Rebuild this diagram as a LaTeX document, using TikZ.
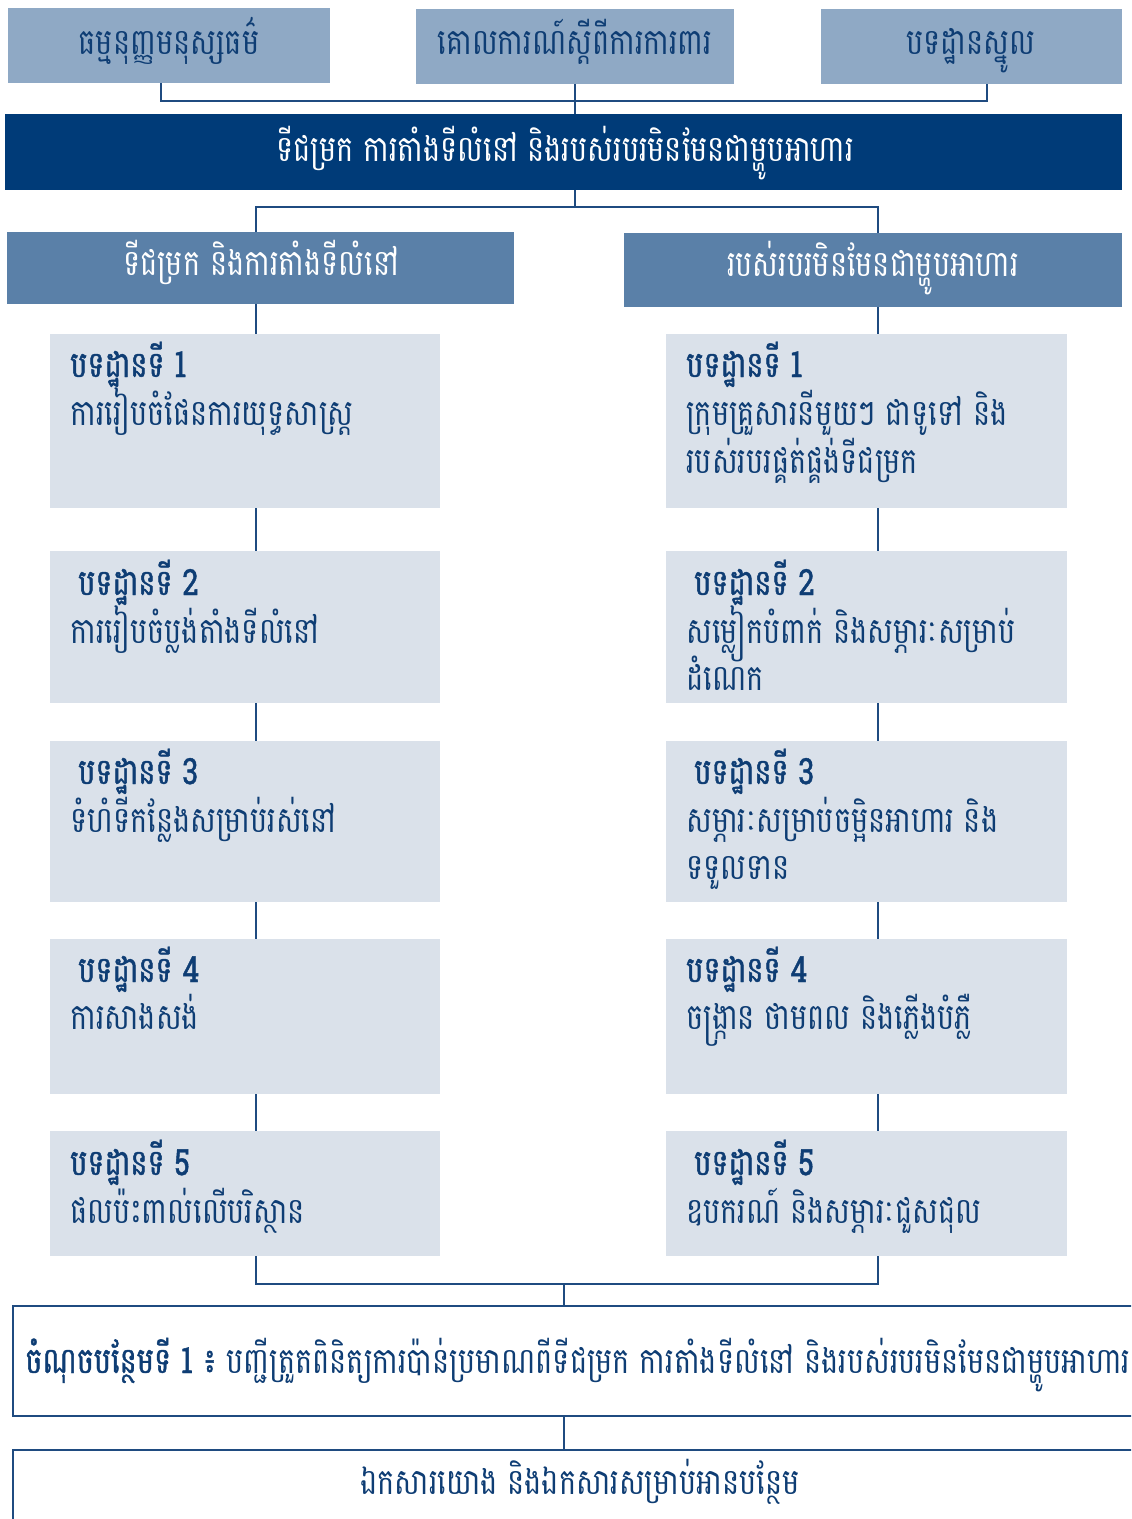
\documentclass[tikz,border=0pt]{standalone}
\usepackage{fontspec}
\newfontfamily\kh[Script=Khmer,FakeStretch=0.8]{Battambang}
\newfontfamily\khsemi[Script=Khmer,FakeStretch=0.8,FakeBold=1.2]{Battambang}
\usetikzlibrary{fit}
\definecolor{topfill}{HTML}{8FA9C5}
\definecolor{navy}{HTML}{003B78}
\definecolor{midfill}{HTML}{5A80A8}
\definecolor{lightfill}{HTML}{DAE1EA}
\definecolor{ink}{HTML}{0E3D74}
\definecolor{wire}{HTML}{1F4B80}
\tikzset{
  box/.style={inner sep=0pt, outer sep=0pt, draw=none},
  topbox/.style={box, fill=topfill},
  mainbox/.style={box, fill=navy},
  headbox/.style={box, fill=midfill},
  stdbox/.style={box, fill=lightfill},
  framebox/.style={box, draw=wire, line width=1.5pt, fill=white},
  wire/.style={draw=wire, line width=1.4pt},
  txt/.style={inner sep=0pt, text=ink, font=\kh\fontsize{27}{30}\selectfont},
  wtxt/.style={txt, text=white},
  hd/.style={txt, anchor=base west, font=\khsemi\fontsize{27}{30}\selectfont},
  ln/.style={txt, anchor=base west},
}
\begin{document}
\begin{tikzpicture}[x=0.75pt,y=-0.75pt]
\useasboundingbox (0,0) rectangle (1131,1519);
\clip (0,0) rectangle (1131,1519);

% top row of reference documents
\node[topbox, fit={(8,8) (330,83)}] (t1) {};
\node[topbox, fit={(416,9) (734,84)}] (t2) {};
\node[topbox, fit={(821,9) (1122,84)}] (t3) {};
\node[txt, anchor=base] (t1t) at (169,55) {ធម្មនុញ្ញមនុស្សធម៌};
\node[txt, anchor=base] (t2t) at (575,55) {គោលការណ៍ស្តីពីការការពារ};
\node[txt, anchor=base] (t3t) at (971,55) {បទដ្ឋានស្នូល};

% chapter title
\node[mainbox, fit={(5,114) (1122,190)}] (main) {};
\node[wtxt, anchor=base] (maint) at (565,162) {ទីជម្រក ការតាំងទីលំនៅ និងរបស់របរមិនមែនជាម្ហូបអាហារ};

% two section headers
\node[headbox, fit={(7,232) (514,304)}] (hl) {};
\node[headbox, fit={(624,233) (1122,307)}] (hr) {};
\node[wtxt, anchor=base] (hlt) at (261,276) {ទីជម្រក និងការតាំងទីលំនៅ};
\node[wtxt, anchor=base] (hrt) at (873,277) {របស់របរមិនមែនជាម្ហូបអាហារ};

% standards, left column
\node[stdbox, fit={(50,334) (440,508)}] (l1) {};
\node[stdbox, fit={(50,551) (440,703)}] (l2) {};
\node[stdbox, fit={(50,741) (440,902)}] (l3) {};
\node[stdbox, fit={(50,939) (440,1094)}] (l4) {};
\node[stdbox, fit={(50,1131) (440,1256)}] (l5) {};
% standards, right column
\node[stdbox, fit={(666,334) (1067,508)}] (r1) {};
\node[stdbox, fit={(666,551) (1067,703)}] (r2) {};
\node[stdbox, fit={(666,741) (1067,902)}] (r3) {};
\node[stdbox, fit={(666,939) (1067,1094)}] (r4) {};
\node[stdbox, fit={(666,1131) (1067,1256)}] (r5) {};

\node[hd] (l1h) at (70,377) {បទដ្ឋានទី 1};
\node[ln] (l1a) at (70,425) {ការរៀបចំផែនការយុទ្ធសាស្ត្រ};
\node[hd] (l2h) at (78,595) {បទដ្ឋានទី 2};
\node[ln] (l2a) at (70,643) {ការរៀបចំប្លង់តាំងទីលំនៅ};
\node[hd] (l3h) at (78,784) {បទដ្ឋានទី 3};
\node[ln] (l3a) at (70,832) {ទំហំទីកន្លែងសម្រាប់រស់នៅ};
\node[hd] (l4h) at (78,982) {បទដ្ឋានទី 4};
\node[ln] (l4a) at (70,1029) {ការសាងសង់};
\node[hd] (l5h) at (70,1175) {បទដ្ឋានទី 5};
\node[ln] (l5a) at (70,1223) {ផលប៉ះពាល់លើបរិស្ថាន};

\node[hd] (r1h) at (686,377) {បទដ្ឋានទី 1};
\node[ln] (r1a) at (686,425) {ក្រុមគ្រួសារនីមួយៗ ជាទូទៅ និង};
\node[ln] (r1b) at (686,473) {របស់របរផ្គត់ផ្គង់ទីជម្រក};
\node[hd] (r2h) at (694,595) {បទដ្ឋានទី 2};
\node[ln] (r2a) at (686,643) {សម្លៀកបំពាក់ និងសម្ភារៈសម្រាប់};
\node[ln] (r2b) at (686,690) {ដំណេក};
\node[hd] (r3h) at (694,784) {បទដ្ឋានទី 3};
\node[ln] (r3a) at (686,832) {សម្ភារៈសម្រាប់ចម្អិនអាហារ និង};
\node[ln] (r3b) at (686,879) {ទទួលទាន};
\node[hd] (r4h) at (686,982) {បទដ្ឋានទី 4};
\node[ln] (r4a) at (686,1029) {ចង្ក្រាន ថាមពល និងភ្លើងបំភ្លឺ};
\node[hd] (r5h) at (694,1175) {បទដ្ឋានទី 5};
\node[ln] (r5a) at (686,1223) {ឧបករណ៍ និងសម្ភារៈជួសជុល};

% annex and references
\node[framebox, fit={(13,1306) (1150,1416)}] (annex) {};
\node[framebox, fit={(13,1450) (1150,1560)}] (refs) {};
\node[ln] (annext) at (25,1373) {{\khsemi ចំណុចបន្ថែមទី 1 ៖} បញ្ជីត្រួតពិនិត្យការប៉ាន់ប្រមាណពីទីជម្រក ការតាំងទីលំនៅ និងរបស់របរមិនមែនជាម្ហូបអាហារ};
\node[txt, anchor=base] (refst) at (580,1494) {ឯកសារយោង និងឯកសារសម្រាប់អានបន្ថែម};

% connectors
\coordinate (jtop) at (575,101);
\draw[wire] (t1.south -| 161,0) |- (jtop) -| (t3.south -| 987,0);
\draw[wire] (t2.south -| 575,0) -- (main.north -| 575,0);
\coordinate (jmid) at (575,207);
\draw[wire] (main.south -| 575,0) -- (jmid);
\draw[wire] (hl.north -| 256,0) |- (jmid) -| (hr.north -| 878,0);
\draw[wire] (hl.south -| 256,0) -- (l1.north -| 256,0);
\draw[wire] (l1.south -| 256,0) -- (l2.north -| 256,0);
\draw[wire] (l2.south -| 256,0) -- (l3.north -| 256,0);
\draw[wire] (l3.south -| 256,0) -- (l4.north -| 256,0);
\draw[wire] (l4.south -| 256,0) -- (l5.north -| 256,0);
\draw[wire] (hr.south -| 878,0) -- (r1.north -| 878,0);
\draw[wire] (r1.south -| 878,0) -- (r2.north -| 878,0);
\draw[wire] (r2.south -| 878,0) -- (r3.north -| 878,0);
\draw[wire] (r3.south -| 878,0) -- (r4.north -| 878,0);
\draw[wire] (r4.south -| 878,0) -- (r5.north -| 878,0);
\coordinate (jlow) at (564,1284);
\draw[wire] (l5.south -| 256,0) |- (jlow) -| (r5.south -| 878,0);
\draw[wire] (jlow) -- (annex.north -| 564,0);
\draw[wire] (annex.south -| 564,0) -- (refs.north -| 564,0);
\end{tikzpicture}
\end{document}
